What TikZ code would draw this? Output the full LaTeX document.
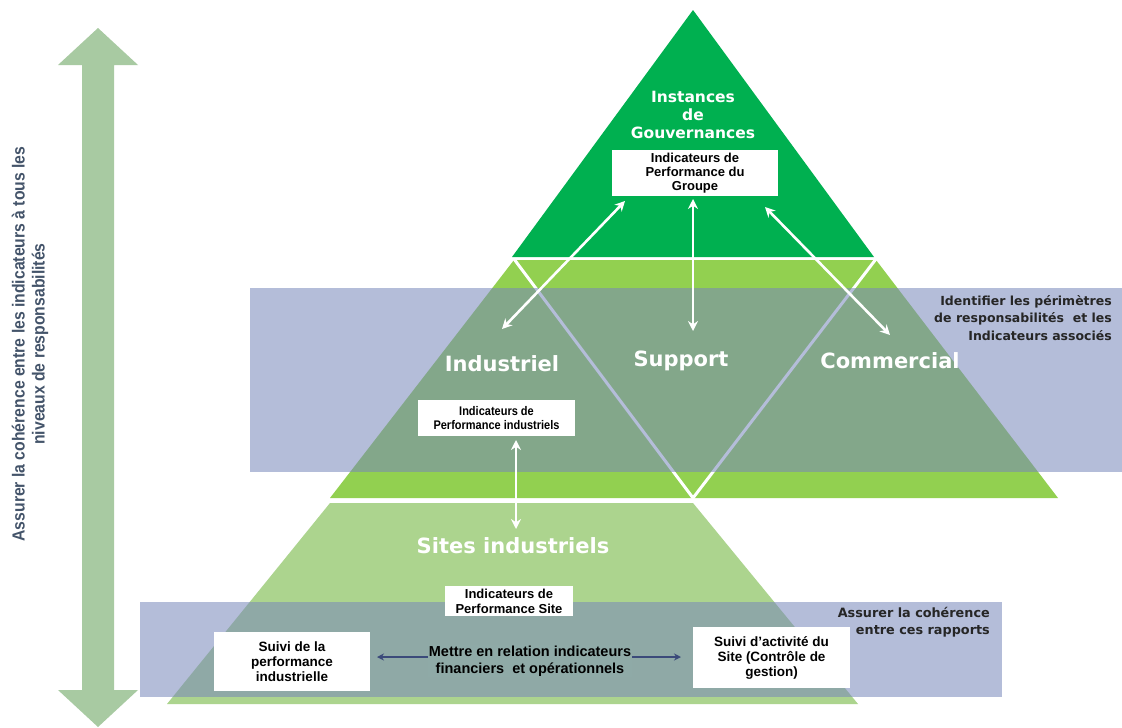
\documentclass[tikz,border=0pt]{standalone}
\usepackage{fontspec}
\setmainfont{Liberation Sans}
\newfontfamily\headfont{DejaVu Sans}
\newfontfamily\narrowfont{Liberation Sans}[FakeStretch=0.88]
\newfontfamily\sidefont{Liberation Sans}[FakeStretch=0.9]
\usetikzlibrary{arrows.meta}

\definecolor{topgreen}{RGB}{0,176,80}
\definecolor{midgreen}{RGB}{146,208,80}
\definecolor{lowgreen}{RGB}{172,212,142}
\definecolor{veil}{RGB}{120,135,187}
\definecolor{veilongreen}{RGB}{143,170,167}
\definecolor{sage}{RGB}{168,202,162}
\definecolor{slate}{RGB}{68,84,106}
\definecolor{navy}{RGB}{59,74,122}
\definecolor{darktext}{RGB}{38,38,38}

\tikzset{
  ibox/.style={fill=white, inner sep=0pt, align=center,
    font=\bfseries\fontsize{13.5}{15}\selectfont},
  nbox/.style={fill=white, inner sep=0pt, align=center,
    font=\narrowfont\bfseries\fontsize{12.5}{14.5}\selectfont},
  level/.style={text=white, align=center,
    font=\headfont\bfseries\fontsize{21}{22}\selectfont},
  note/.style={text=darktext, align=right, inner sep=0pt,
    font=\headfont\bfseries\fontsize{12.5}{17.5}\selectfont},
  warrow/.style={draw=white, line width=2.6pt,
    {Stealth[length=10pt,width=10pt]}-{Stealth[length=10pt,width=10pt]}},
  narrow/.style={draw=navy, line width=1.5pt,
    {Stealth[length=7pt,width=7pt]}-{Stealth[length=7pt,width=7pt]}},
  veilbox/.style={fill=veil, fill opacity=0.55, draw=none}
}

\begin{document}
\begin{tikzpicture}[x=1pt,y=-1pt]
  % page
  \fill[white] (0,0) rectangle (1122,728);
  \useasboundingbox (0,0) rectangle (1122,728);

  % vertical double arrow on the left
  \fill[sage] (98,28) -- (138,65) -- (114,65) -- (114,690) -- (138,690)
    -- (98,727) -- (58,690) -- (82,690) -- (82,65) -- (58,65) -- cycle;

  % pyramid levels
  \fill[topgreen] (693,10) -- (874,257) -- (512,257) -- cycle;
  \fill[midgreen] (514,260) -- (876,260) -- (1058,498) -- (330,498) -- cycle;
  \fill[lowgreen] (330,503) -- (693,503) -- (858,704) -- (167,704) -- cycle;
  % split of the middle level into three sectors
  \draw[white, line width=3pt, line join=miter] (514,259) -- (693,498) -- (876,259);

  % translucent bands
  \fill[veilbox] (250,288) rectangle (1122,472);
  \fill[veilbox] (140,602) rectangle (1002,697);

  % level titles
  \node[level, font=\headfont\bfseries\fontsize{15.5}{18}\selectfont] (gov) at (693,115)
    {Instances\\de\\Gouvernances};
  \node[level] (indus) at (502,364) {Industriel};
  \node[level] (supp) at (681,361) {Support};
  \node[level] (comm) at (890,361) {Commercial};
  \node[level] (sites) at (513,546) {Sites industriels};

  % indicator boxes
  \node[ibox, font=\bfseries\fontsize{13}{14}\selectfont,
    minimum width=166pt, minimum height=46pt] (grp) at (695,173)
    {Indicateurs de\\Performance du\\Groupe};
  \node[nbox, minimum width=157pt, minimum height=36pt] (ind) at (496.5,418)
    {Indicateurs de\\Performance industriels};
  \node[ibox, font=\bfseries\fontsize{13}{15}\selectfont,
    minimum width=128pt, minimum height=30pt] (site) at (509,601)
    {Indicateurs de\\Performance Site};
  \node[ibox, minimum width=156pt, minimum height=59pt] (perf) at (292,661.5)
    {Suivi de la\\performance\\industrielle};
  \node[ibox, minimum width=157pt, minimum height=61pt] (gest) at (771.5,657.5)
    {Suivi d'activité du\\Site (Contrôle de\\gestion)};

  % side notes
  \node[note, anchor=north east] (noteA) at (1112,295)
    {Identifier les périmètres\\de responsabilités \ et les\\Indicateurs associés};
  \node[note, font=\headfont\bfseries\fontsize{12.8}{17.5}\selectfont,
    anchor=north east] (noteB) at (990,607)
    {Assurer la cohérence\\entre ces rapports};
  \node[rotate=90, text=slate, align=center,
    font=\sidefont\bfseries\fontsize{17.5}{20}\selectfont] (side) at (30,344)
    {Assurer la cohérence entre les indicateurs à tous les\\niveaux de responsabilités};

  % connector end points
  \coordinate (gI) at (625,201);
  \coordinate (eI) at (502,329);
  \coordinate (gS) at (693,199);
  \coordinate (eS) at (693,331);
  \coordinate (gC) at (765,207);
  \coordinate (eC) at (890,335);
  \coordinate (iS) at (516,440);
  \coordinate (eSite) at (516,529);
  \coordinate (pL) at (377,657);
  \coordinate (gR) at (681,657);

  % connectors
  \draw[warrow] (gI) -- (eI);
  \draw[warrow] (gS) -- (eS);
  \draw[warrow] (gC) -- (eC);
  \draw[warrow] (iS) -- (eSite);
  \draw[narrow] (pL) -- (gR);

  % caption of the horizontal link, laid over its shaft
  \node[fill=veilongreen, text=black, align=center, inner sep=1pt,
    font=\bfseries\fontsize{14.5}{17}\selectfont] (link) at (530,661)
    {Mettre en relation indicateurs\\financiers \ et opérationnels};
\end{tikzpicture}
\end{document}
